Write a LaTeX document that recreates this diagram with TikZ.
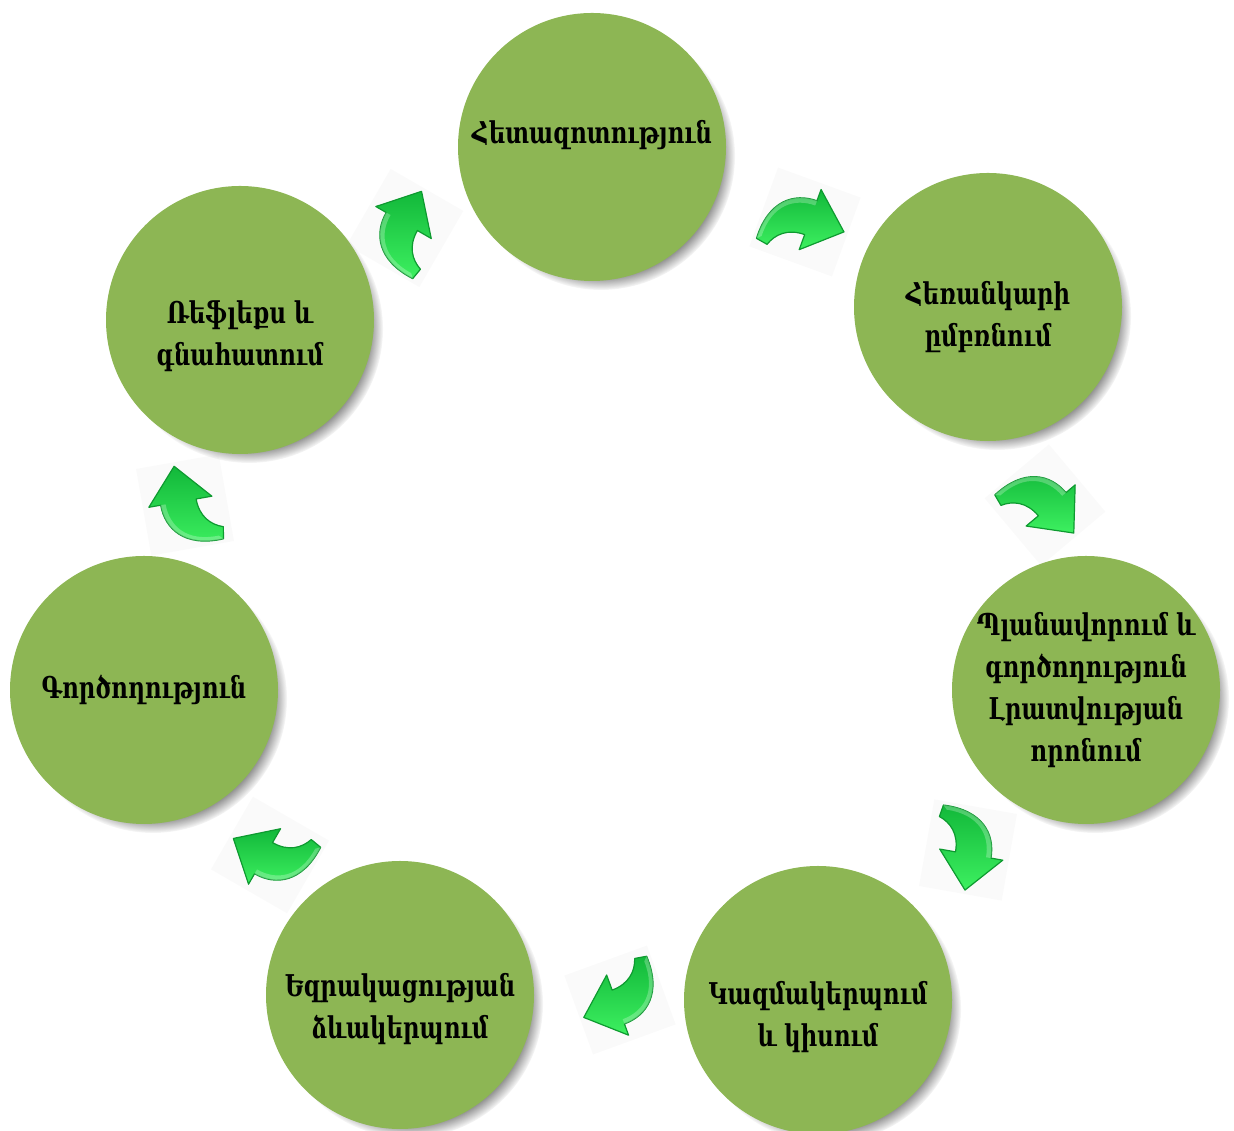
\documentclass[tikz,border=0pt]{standalone}
\usepackage{fontspec}
\setmainfont{DejaVu Serif}[FakeStretch=0.76]
\usetikzlibrary{shadows}
\definecolor{circfill}{HTML}{8DB654}
\definecolor{arrlight}{HTML}{3DF060}
\definecolor{arrdark}{HTML}{12B83A}
\definecolor{arredge}{HTML}{0E9A30}
\tikzset{
  x=1pt,y=1pt,
  stage/.style={circle, fill=circfill, minimum size=268pt, inner sep=0pt,
    circular drop shadow={shadow xshift=9pt, shadow yshift=-9pt, shadow scale=1.0, opacity=0.9, fill=black!70}},
  stagetext/.style={align=center, inner sep=0pt, font=\fontsize{30}{42}\selectfont\bfseries},
  curvarrow/.pic={
    \fill[black!30, opacity=0.06] (-44,-42) rectangle (44,42);
    \shade[left color=arrdark, right color=arrlight, shading angle=0, draw=arredge, line width=1.2pt, line join=round]
      (-40,-32) .. controls (-42,8) and (-20,24) .. (4,24)
      -- (4,36) -- (40,4) -- (4,-28) -- (4,-12)
      .. controls (-14,-12) and (-24,-22) .. (-28,-34) -- cycle;
    \fill[white, opacity=0.25] (-36,-28) .. controls (-37,5) and (-18,19) .. (4,19) -- (4,24)
      .. controls (-20,24) and (-42,8) .. (-40,-32) -- cycle;
  }
}
\begin{document}
\begin{tikzpicture}
\useasboundingbox (0,0) rectangle (1234,1131);
\node[stage] (s1) at (592,984) {};
\node[stage] (s2) at (988,824) {};
\node[stage] (s3) at (1086,441) {};
\node[stage] (s4) at (818,131) {};
\node[stage] (s5) at (400,136) {};
\node[stage] (s6) at (144,441) {};
\node[stage] (s7) at (240,811) {};
\node[stagetext] (t1) at ([yshift=12pt]s1.center) {Հետազոտություն};
\node[stagetext] (t2) at ([yshift=-10pt]s2.center) {Հեռանկարի\\ըմբռնում};
\node[stagetext] (t3) at (s3.center) {Պլանավորում և\\գործողություն\\Լրատվության\\որոնում};
\node[stagetext] (t4) at ([yshift=-17pt]s4.center) {Կազմակերպում\\և կիսում};
\node[stagetext] (t5) at ([yshift=-14pt]s5.center) {Եզրակացության\\ձևակերպում};
\node[stagetext] (t6) at (s6.center) {Գործողություն};
\node[stagetext] (t7) at ([yshift=-16pt]s7.center) {Ռեֆլեքս և\\գնահատում};
\coordinate (a1) at (805,909);
\coordinate (a2) at (1045,626);
\coordinate (a3) at (968,281);
\coordinate (a4) at (620,131);
\coordinate (a5) at (270,276);
\coordinate (a6) at (185,626);
\coordinate (a7) at (405,903);
\pic[rotate=-20] at (a1) {curvarrow};
\pic[rotate=-50] at (a2) {curvarrow};
\pic[rotate=-100] at (a3) {curvarrow};
\pic[rotate=-160] at (a4) {curvarrow};
\pic[rotate=150] at (a5) {curvarrow};
\pic[rotate=100] at (a6) {curvarrow};
\pic[rotate=60] at (a7) {curvarrow};
\end{tikzpicture}
\end{document}
